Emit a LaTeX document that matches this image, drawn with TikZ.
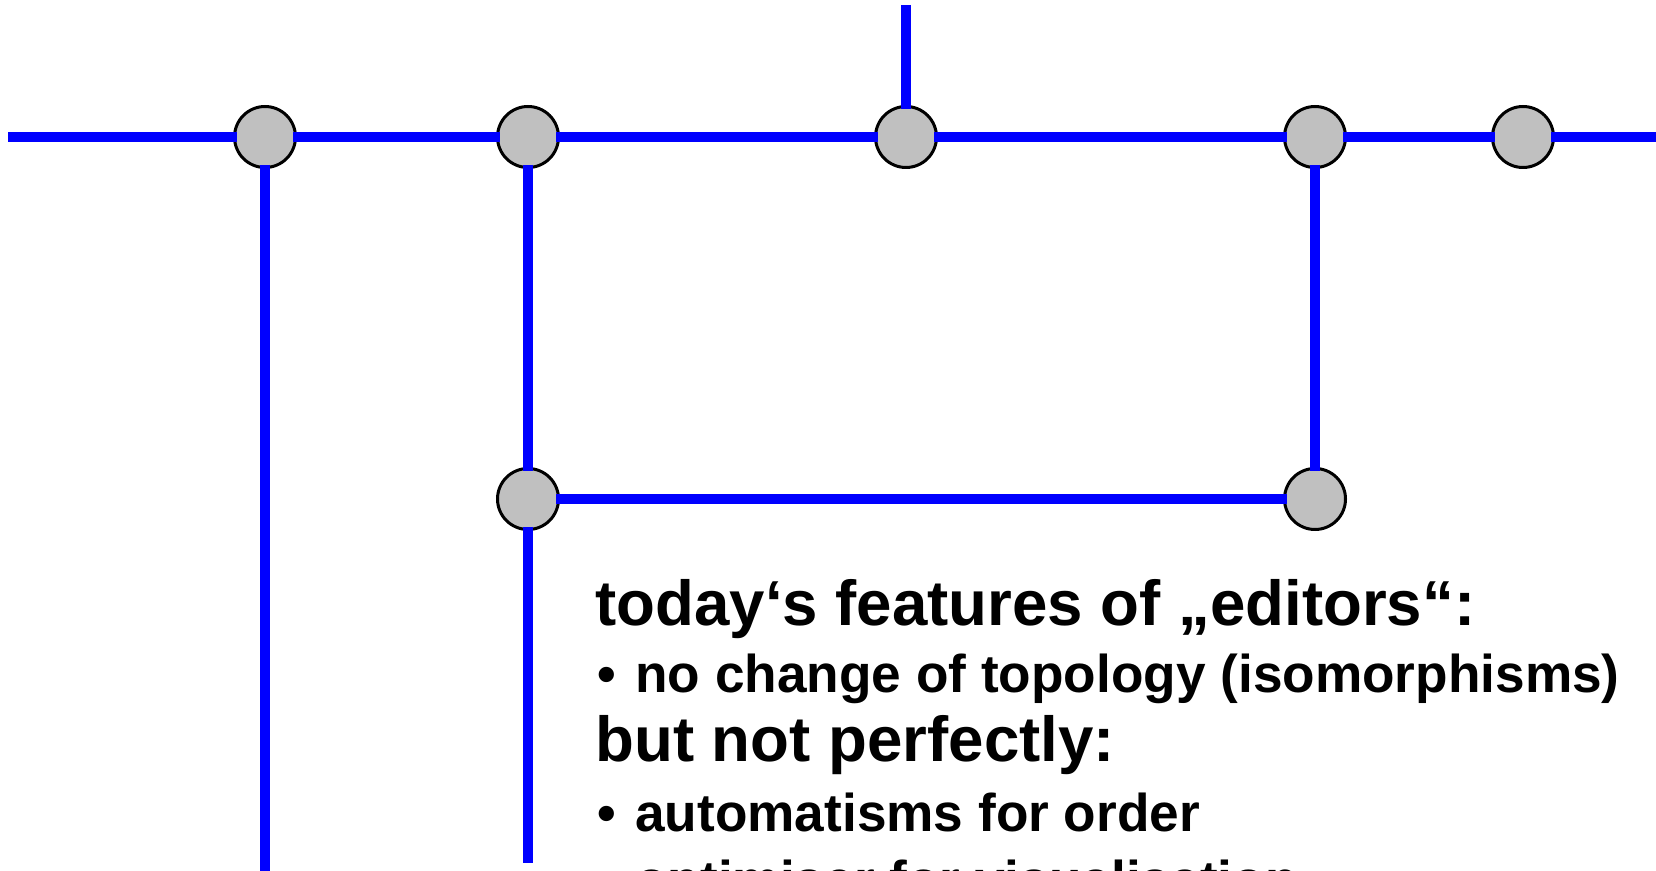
\documentclass[tikz,border=0pt]{standalone}
\usepackage{fontspec}
\setmainfont{Liberation Sans}
\definecolor{nodegray}{HTML}{C0C0C0}
\definecolor{wireblue}{HTML}{0000FF}
\begin{document}
\begin{tikzpicture}[x=0.5pt,y=-0.5pt,
  junction/.style={circle,draw=black,line width=1.5pt,fill=nodegray,minimum size=30.5pt,inner sep=0pt,outer sep=-1.25pt},
  wire/.style={draw=wireblue,line width=5pt},
  headline/.style={anchor=base west,inner sep=0pt,font=\bfseries\fontsize{31.8pt}{36pt}\selectfont},
  itemline/.style={anchor=base west,inner sep=0pt,font=\bfseries\fontsize{26.6pt}{30pt}\selectfont}]
\useasboundingbox (0,0) rectangle (1656,871);
% junctions
\node[junction] (A) at (265,137) {};
\node[junction] (B) at (528,137) {};
\node[junction] (C) at (906,137) {};
\node[junction] (D) at (1315,137) {};
\node[junction] (E) at (1523,137) {};
\node[junction] (F) at (528,499) {};
\node[junction] (G) at (1315,499) {};
% free ends
\coordinate (Lend) at (8,137);
\coordinate (Rend) at (1660,137);
\coordinate (Tend) at (906,5);
\coordinate (Aend) at (265,875);
\coordinate (Fend) at (528,863);
% wires
\draw[wire] (Lend) -- (A.west);
\draw[wire] (A) -- (B);
\draw[wire] (B) -- (C);
\draw[wire] (C) -- (D);
\draw[wire] (D) -- (E);
\draw[wire] (E.east) -- (Rend);
\draw[wire] (Tend) -- (C.north);
\draw[wire] (A.south) -- (Aend);
\draw[wire] (B) -- (F);
\draw[wire] (F.south) -- (Fend);
\draw[wire] (F) -- (G);
\draw[wire] (D) -- (G);
% text
\node[headline] (t1) at (595,625) {today‘s features of „editors“:};
\node[itemline] (t2) at (597,692) {\makebox[19pt][l]{•}no change of topology (isomorphisms)};
\node[headline] (t3) at (595,762) {but not perfectly:};
\node[itemline] (t4) at (597,831) {\makebox[19pt][l]{•}automatisms for order};
\node[itemline] (t5) at (597,898) {\makebox[19pt][l]{•}optimiser for visualisation};
\end{tikzpicture}
\end{document}
